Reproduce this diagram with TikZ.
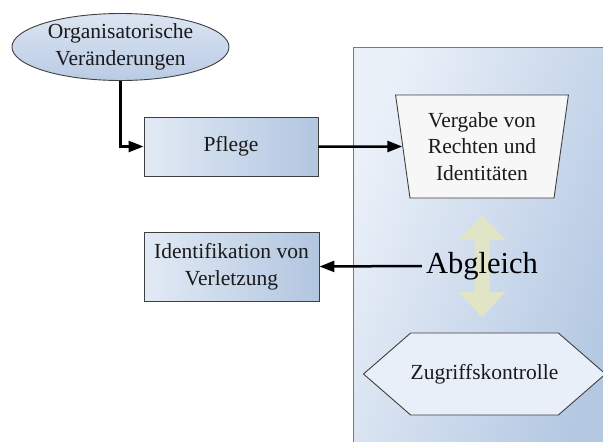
\documentclass[tikz,border=0pt]{standalone}
\usepackage{fontspec}
\setmainfont{Liberation Serif}
\usetikzlibrary{shapes.geometric,shapes.symbols,arrows.meta}

\definecolor{boxlight}{HTML}{E2EAF5}
\definecolor{boxdark}{HTML}{B2C6E0}
\definecolor{ovallight}{HTML}{DCE5F2}
\definecolor{ovaldark}{HTML}{B9CBE4}
\definecolor{edgegray}{HTML}{3F3F3F}
\definecolor{panellight}{HTML}{EBF1F9}
\definecolor{paneldark}{HTML}{B4C8E2}
\definecolor{panelborder}{HTML}{6E7A88}
\definecolor{syncarrow}{HTML}{E1E5C6}
\definecolor{hexfill}{HTML}{E9EFF8}
\definecolor{textdark}{HTML}{1A1A1A}

\tikzset{
  x=1pt, y=-1pt,
  txt/.style={font=\fontsize{21.5}{26.5}\selectfont, text=textdark, align=center},
  bluebox/.style={txt, draw=edgegray, line width=0.9pt, rectangle,
    left color=boxlight, right color=boxdark},
  flow/.style={draw=black, line width=2.5pt,
    -{Triangle[length=15pt,width=11pt]}},
}

\begin{document}
\begin{tikzpicture}
\useasboundingbox (0,0) rectangle (603,442);

% system panel on the right
\shade[left color=panellight, right color=paneldark, shading angle=70]
  (353,47) rectangle (610,450);
\draw[panelborder, line width=1pt] (353,450) -- (353,47) -- (610,47);

% two-way sync arrow behind "Abgleich"
\fill[syncarrow]
  (482,215) -- (505.5,240) -- (489.5,240) -- (489.5,292) -- (505.5,292)
  -- (482,317) -- (458.5,292) -- (474.5,292) -- (474.5,240) -- (458.5,240) -- cycle;

% nodes
\node[txt, ellipse, draw=edgegray, line width=0.9pt, inner sep=0pt,
      minimum width=217, minimum height=67,
      top color=ovallight, bottom color=ovaldark]
  (orga) at (120.5,47) {Organisatorische\\Veränderungen};

\node[bluebox, minimum width=174, minimum height=59] (pflege) at (231,146.5) {Pflege};

\node[bluebox, minimum width=175, minimum height=69, inner sep=0pt]
  (ident) at (231.5,266.5) {Identifikation von\\Verletzung};

\node[txt, trapezium, trapezium stretches=true, shape border rotate=180,
      trapezium angle=81, minimum width=173, minimum height=103,
      draw=edgegray, line width=0.9pt, fill=white!97!black, inner sep=0pt]
  (vergabe) at (482,146.5) {Vergabe von\\Rechten und\\Identitäten};

\node[txt, signal, signal to=west and east, signal pointer angle=82,
      minimum width=223, minimum height=82, inner sep=0pt,
      draw=edgegray, line width=0.9pt, fill=hexfill]
  (zugriff) at (484.5,374) {Zugriffskontrolle};

\node[font=\fontsize{30.5}{34}\selectfont, text=black, inner sep=4pt]
  (abgleich) at (482,266) {Abgleich};

% connectors
\draw[flow] (orga.south) |- (pflege.west);
\draw[flow] (pflege) -- (vergabe);
\draw[flow] (abgleich.west) -- (ident.east);
\end{tikzpicture}
\end{document}
